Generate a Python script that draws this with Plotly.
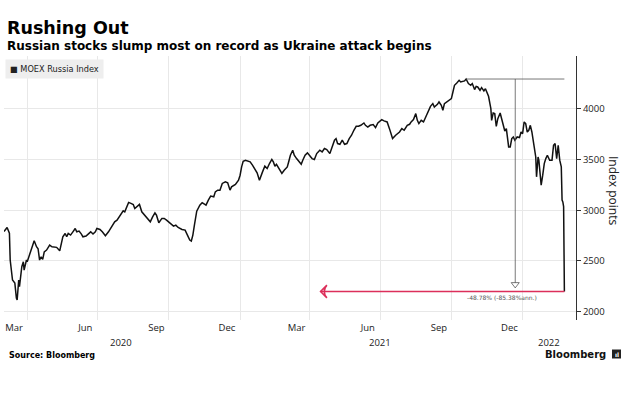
import pandas as pd
import plotly.graph_objects as go

# ---- data ----
dates_2020 = [
    "2020-03-02", "2020-03-06", "2020-03-09", "2020-03-10", "2020-03-13", "2020-03-16", "2020-03-18",
    "2020-03-19", "2020-03-21", "2020-03-22", "2020-03-25", "2020-03-27", "2020-03-28", "2020-03-31",
    "2020-04-01", "2020-04-04", "2020-04-07", "2020-04-10", "2020-04-13", "2020-04-15", "2020-04-17",
    "2020-04-19", "2020-04-21", "2020-04-23", "2020-04-26", "2020-04-30", "2020-05-03", "2020-05-07",
    "2020-05-09", "2020-05-13", "2020-05-17", "2020-05-20", "2020-05-22", "2020-05-24", "2020-05-27",
    "2020-05-30", "2020-06-02", "2020-06-04", "2020-06-07", "2020-06-10", "2020-06-12", "2020-06-16",
    "2020-06-19", "2020-06-22", "2020-06-25", "2020-06-28", "2020-06-30", "2020-07-04", "2020-07-07",
    "2020-07-11", "2020-07-15", "2020-07-19", "2020-07-23", "2020-07-26", "2020-07-29", "2020-07-31",
    "2020-08-03", "2020-08-05", "2020-08-08", "2020-08-10", "2020-08-13", "2020-08-16", "2020-08-18",
    "2020-08-21", "2020-08-24", "2020-08-27", "2020-08-31", "2020-09-05", "2020-09-07", "2020-09-10",
    "2020-09-13", "2020-09-15", "2020-09-18", "2020-09-22", "2020-09-25", "2020-09-28", "2020-10-02",
    "2020-10-05", "2020-10-07", "2020-10-10", "2020-10-13", "2020-10-18", "2020-10-22", "2020-10-25",
    "2020-10-28", "2020-10-30", "2020-11-01", "2020-11-03", "2020-11-06", "2020-11-10", "2020-11-13",
    "2020-11-16", "2020-11-18", "2020-11-21", "2020-11-24", "2020-11-28", "2020-11-30", "2020-12-03",
    "2020-12-06", "2020-12-09", "2020-12-13", "2020-12-16", "2020-12-19", "2020-12-21", "2020-12-26",
    "2020-12-30",
]
values_2020 = [
    2790, 2830, 2774, 2509, 2312, 2282, 2135,
    2115, 2312, 2246, 2443, 2492, 2410, 2509,
    2492, 2558, 2624, 2699, 2640, 2620, 2509,
    2541, 2515, 2590, 2607, 2656, 2640, 2640,
    2634, 2600, 2738, 2771, 2738, 2771, 2755,
    2787, 2820, 2787, 2794, 2765, 2738, 2745,
    2765, 2787, 2765, 2787, 2820, 2810, 2787,
    2748, 2787, 2836, 2886, 2902, 2935, 2968,
    2994, 2984, 3033, 3077, 3067, 3057, 3017,
    3040, 3057, 2984, 2951, 2909, 2886, 2935,
    2974, 2951, 2876, 2919, 2919, 2902, 2876,
    2863, 2843, 2853, 2830, 2810, 2804, 2755,
    2706, 2696, 2755, 2853, 2990, 3050, 3073,
    3060, 3050, 3099, 3139, 3132, 3181, 3198,
    3198, 3264, 3280, 3270, 3198, 3230, 3254,
    3296,
]

dates_2021 = [
    "2021-01-01", "2021-01-03", "2021-01-05", "2021-01-08", "2021-01-11", "2021-01-14", "2021-01-17",
    "2021-01-20", "2021-01-23", "2021-01-26", "2021-01-28", "2021-01-30", "2021-02-02", "2021-02-05",
    "2021-02-08", "2021-02-11", "2021-02-13", "2021-02-15", "2021-02-17", "2021-02-21", "2021-02-24",
    "2021-02-27", "2021-03-03", "2021-03-05", "2021-03-07", "2021-03-10", "2021-03-12", "2021-03-15",
    "2021-03-18", "2021-03-21", "2021-03-23", "2021-03-26", "2021-03-29", "2021-04-01", "2021-04-04",
    "2021-04-07", "2021-04-10", "2021-04-14", "2021-04-17", "2021-04-20", "2021-04-23", "2021-04-27",
    "2021-04-30", "2021-05-03", "2021-05-05", "2021-05-07", "2021-05-10", "2021-05-13", "2021-05-16",
    "2021-05-19", "2021-05-22", "2021-05-25", "2021-05-28", "2021-05-31", "2021-06-03", "2021-06-06",
    "2021-06-10", "2021-06-12", "2021-06-15", "2021-06-18", "2021-06-22", "2021-06-25", "2021-06-28",
    "2021-06-30", "2021-07-03", "2021-07-06", "2021-07-10", "2021-07-13", "2021-07-15", "2021-07-17",
    "2021-07-21", "2021-07-24", "2021-07-26", "2021-07-29", "2021-08-01", "2021-08-05", "2021-08-08",
    "2021-08-10", "2021-08-13", "2021-08-16", "2021-08-18", "2021-08-20", "2021-08-23", "2021-08-26",
    "2021-08-29", "2021-09-01", "2021-09-04", "2021-09-07", "2021-09-09", "2021-09-13", "2021-09-15",
    "2021-09-18", "2021-09-20", "2021-09-22", "2021-09-25", "2021-09-28", "2021-10-01", "2021-10-03",
    "2021-10-05", "2021-10-08", "2021-10-11", "2021-10-13", "2021-10-16", "2021-10-18", "2021-10-20",
    "2021-10-23", "2021-10-26", "2021-10-28", "2021-10-31", "2021-11-02", "2021-11-04", "2021-11-07",
    "2021-11-09", "2021-11-12", "2021-11-14", "2021-11-16", "2021-11-18", "2021-11-21", "2021-11-22",
    "2021-11-24", "2021-11-26", "2021-11-28", "2021-11-30", "2021-12-03", "2021-12-05", "2021-12-07",
    "2021-12-09", "2021-12-11", "2021-12-14", "2021-12-16", "2021-12-18", "2021-12-20", "2021-12-22",
    "2021-12-25", "2021-12-28", "2021-12-30",
]
values_2021 = [
    3345, 3427, 3483, 3493, 3486, 3476, 3444,
    3411, 3368, 3296, 3329, 3378, 3434, 3411,
    3460, 3500, 3476, 3434, 3453, 3394, 3362,
    3394, 3427, 3483, 3542, 3591, 3542, 3509,
    3486, 3453, 3493, 3542, 3565, 3542, 3509,
    3500, 3558, 3591, 3575, 3608, 3598, 3558,
    3624, 3690, 3706, 3657, 3650, 3690, 3650,
    3657, 3706, 3739, 3788, 3827, 3827, 3837,
    3860, 3837, 3820, 3837, 3844, 3814, 3860,
    3875, 3893, 3880, 3870, 3804, 3755, 3706,
    3739, 3755, 3771, 3804, 3788, 3837, 3847,
    3870, 3893, 3952, 3886, 3854, 3886, 3870,
    3919, 3968, 4024, 4051, 4017, 4044, 4067,
    4034, 3985, 4051, 4067, 4090, 4100, 4165,
    4231, 4254, 4280, 4264, 4274, 4274, 4293,
    4248, 4231, 4248, 4189, 4221, 4215, 4182,
    4208, 4175, 4198, 4149, 4123, 4001, 3886,
    3958, 3952, 3827, 3903, 3958, 3903, 3820,
    3781, 3804, 3624, 3624, 3706, 3722, 3690,
    3722, 3716, 3771,
]

dates_2022 = [
    "2022-01-01", "2022-01-03", "2022-01-05", "2022-01-07", "2022-01-09", "2022-01-11", "2022-01-13",
    "2022-01-16", "2022-01-18", "2022-01-19", "2022-01-21", "2022-01-22", "2022-01-25", "2022-01-27",
    "2022-01-29", "2022-01-31", "2022-02-02", "2022-02-05", "2022-02-08", "2022-02-10", "2022-02-12",
    "2022-02-14", "2022-02-16", "2022-02-18", "2022-02-20", "2022-02-21", "2022-02-22", "2022-02-23",
    "2022-02-24",
]
values_2022 = [
    3755, 3870, 3854, 3771, 3788, 3837, 3771,
    3624, 3525, 3329, 3525, 3493, 3247, 3345,
    3460, 3509, 3542, 3493, 3493, 3640, 3657,
    3509, 3640, 3493, 3427, 3099, 3082, 3035,
    2199,
]

series_name = "MOEX Russia Index"
month_tick_dates = ["2020-03-15", "2020-06-15", "2020-09-15", "2020-12-15",
                    "2021-03-15", "2021-06-15", "2021-09-15", "2021-12-15"]
month_tick_labels = ["Mar", "Jun", "Sep", "Dec", "Mar", "Jun", "Sep", "Dec"]
year_label_dates = ["2020-07-31", "2021-07-01", "2022-02-04"]
year_labels = ["2020", "2021", "2022"]
y_tick_values = [2000, 2500, 3000, 3500, 4000]
x_range = ["2020-03-02", "2022-03-11"]
y_range = [1918, 4520]
arrow_left_date = "2021-04-15"
drawdown_text = "-48.78% (-85.38%ann.)"

# ---- derived ----
dates = pd.to_datetime(dates_2020 + dates_2021 + dates_2022)
values = values_2020 + values_2021 + values_2022
s = pd.Series(values, index=dates)
peak_date, peak_val = s.idxmax(), s.max()
last_date, last_val = s.index[-1], s.iloc[-1]
mid_date = peak_date + (last_date - peak_date) / 2

W, H = 630, 396
L, R, T, B = 4, 54, 56, 76
pw, ph = W - L - R, H - T - B


def px(xp):
    return (xp - L) / pw


def py(yp):
    return (H - B - yp) / ph


fig = go.Figure()

# main line
fig.add_trace(go.Scatter(x=s.index, y=s.values, mode="lines",
                         line=dict(color="#111111", width=1.5),
                         name=series_name, showlegend=False, hoverinfo="skip"))

# peak horizontal reference
fig.add_trace(go.Scatter(x=[peak_date, last_date], y=[peak_val, peak_val], mode="lines",
                         line=dict(color="#555555", width=0.8), showlegend=False, hoverinfo="skip"))
# vertical drawdown line with hollow triangle
fig.add_trace(go.Scatter(x=[mid_date, mid_date], y=[peak_val, last_val + 40], mode="lines",
                         line=dict(color="#555555", width=0.8), showlegend=False, hoverinfo="skip"))
fig.add_trace(go.Scatter(x=[mid_date], y=[last_val + 70], mode="markers",
                         marker=dict(symbol="triangle-down", size=7, color="white",
                                     line=dict(color="#555555", width=0.8)),
                         showlegend=False, hoverinfo="skip"))
# red arrow line
fig.add_trace(go.Scatter(x=[pd.Timestamp(arrow_left_date), last_date], y=[last_val, last_val],
                         mode="lines", line=dict(color="#dc2f5a", width=1.6),
                         showlegend=False, hoverinfo="skip"))
fig.add_trace(go.Scatter(x=[pd.Timestamp(arrow_left_date)], y=[last_val], mode="markers",
                         marker=dict(symbol="arrow-wide-open", angle=-90, size=9, color="#dc2f5a",
                                     line=dict(color="#dc2f5a", width=1.6)),
                         showlegend=False, hoverinfo="skip"))

annotations = [
    dict(text="Rushing Out", x=px(5), y=py(28), xref="paper", yref="paper", xanchor="left",
         yanchor="middle", showarrow=False,
         font=dict(family="DejaVu Sans", size=17.5, color="#000000", weight="bold")),
    dict(text="Russian stocks slump most on record as Ukraine attack begins", x=px(5), y=py(46),
         xref="paper", yref="paper", xanchor="left", yanchor="middle", showarrow=False,
         font=dict(family="DejaVu Sans", size=12, color="#000000", weight="bold")),
    dict(text="■ " + series_name, x=px(5), y=py(68.5), xref="paper", yref="paper", xanchor="left",
         yanchor="middle", showarrow=False, bgcolor="#eeeeee", borderpad=4,
         font=dict(family="DejaVu Sans", size=8.2, color="#222222")),
    dict(text="Index points", x=px(614), y=py(190), xref="paper", yref="paper", textangle=90,
         xanchor="center", yanchor="middle", showarrow=False,
         font=dict(family="Open Sans", size=12, color="#222222")),
    dict(text=drawdown_text, x=mid_date, y=last_val, xref="x", yref="y", xshift=-13, yshift=-6,
         xanchor="center", yanchor="middle", showarrow=False,
         font=dict(family="DejaVu Sans", size=6, color="#555555")),
    dict(text="Source: Bloomberg", x=px(7), y=py(356), xref="paper", yref="paper", xanchor="left",
         yanchor="middle", showarrow=False,
         font=dict(family="DejaVu Sans", size=8, color="#000000", weight="bold")),
    dict(text="Bloomberg", x=px(608), y=py(354), xref="paper", yref="paper", xanchor="right",
         yanchor="middle", showarrow=False,
         font=dict(family="DejaVu Sans", size=10, color="#111111", weight="bold")),
    dict(text="ıl", x=px(616.5), y=py(354), xref="paper", yref="paper", xanchor="center",
         yanchor="middle", showarrow=False,
         font=dict(family="DejaVu Sans", size=6, color="#ffffff", weight="bold")),
]
for d, t in zip(year_label_dates, year_labels):
    annotations.append(dict(text=t, x=d, y=py(342), xref="x", yref="paper", xanchor="center",
                            yanchor="middle", showarrow=False,
                            font=dict(family="Open Sans", size=9.5, color="#222222")))

fig.update_layout(
    width=W, height=H, margin=dict(l=L, r=R, t=T, b=B),
    paper_bgcolor="white", plot_bgcolor="white",
    annotations=annotations,
    shapes=[dict(type="rect", xref="paper", yref="paper", x0=px(612), x1=px(621),
                 y0=py(358.5), y1=py(349.5), fillcolor="#222222", line=dict(width=0),
                 layer="below")],
    xaxis=dict(type="date", range=x_range, tickmode="array", tickvals=month_tick_dates,
               ticktext=month_tick_labels, showgrid=False, zeroline=False, showline=False,
               ticks="", tickfont=dict(family="Open Sans", size=9.5, color="#222222"),
               minor=dict(tickmode="linear", tick0="2020-01-01", dtick="M3", showgrid=True,
                          gridcolor="#e8e8e8", gridwidth=1, ticks="")),
    yaxis=dict(side="right", range=y_range, tickmode="array", tickvals=y_tick_values,
               showgrid=True, gridcolor="#e8e8e8", zeroline=False, showline=True,
               linecolor="#333333", linewidth=1, ticks="outside", ticklen=4, tickcolor="#333333",
               tickfont=dict(family="Open Sans", size=9.5, color="#222222")),
)

fig.write_html("out.html", config={"displayModeBar": False},
               post_script="document.body.style.margin='0';document.body.style.overflow='hidden';")
